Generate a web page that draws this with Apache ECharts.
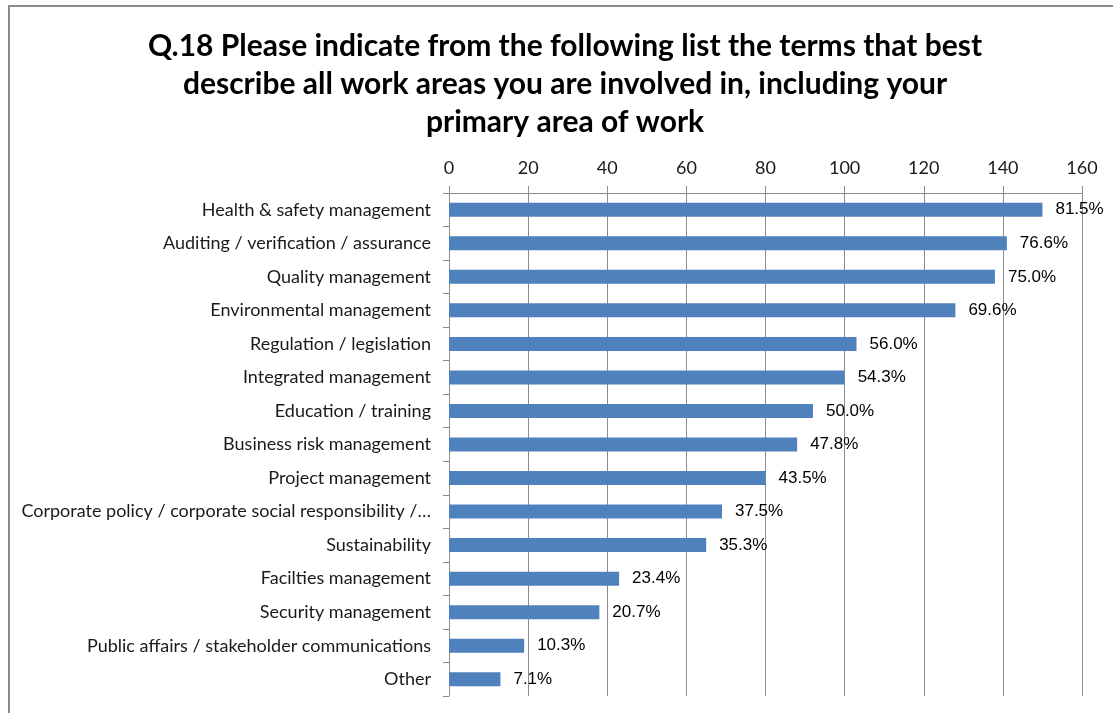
<!DOCTYPE html>
<html>
<head>
<meta charset="utf-8">
<script src="https://cdn.jsdelivr.net/npm/echarts@6/dist/echarts.min.js"></script>
<style>
  html, body { margin: 0; padding: 0; background: #fff; }
  #chart { width: 1113px; height: 713px; }
</style>
</head>
<body>
<div id="chart"></div>
<script>
// Survey question 18: work areas respondents are involved in (multiple answers)
const titleText = 'Q.18 Please indicate from the following list the terms that best\ndescribe all work areas you are involved in, including your\nprimary area of work';

const categories = [
  'Health & safety management',
  'Auditing / verification / assurance',
  'Quality management',
  'Environmental management',
  'Regulation / legislation',
  'Integrated management',
  'Education / training',
  'Business risk management',
  'Project management',
  'Corporate policy / corporate social responsibility /…',
  'Sustainability',
  'Facilties management',
  'Security management',
  'Public affairs / stakeholder communications',
  'Other'
];

// Share of respondents (%) shown next to each bar
const percentages = [81.5, 76.6, 75.0, 69.6, 56.0, 54.3, 50.0, 47.8, 43.5, 37.5, 35.3, 23.4, 20.7, 10.3, 7.1];

// Number of respondents answering the question
const respondents = 184;

const xTicks = [0, 20, 40, 60, 80, 100, 120, 140, 160];

// Response counts derived from the stated shares
const counts = percentages.map(p => Math.round(p * respondents / 100));

const chart = echarts.init(document.getElementById('chart'), null, { renderer: 'canvas' });

const gridColor = '#8c8c8c';
const labelFont = 'Lato, "Open Sans", sans-serif';

chart.setOption({
  animation: false,
  backgroundColor: '#ffffff',
  title: {
    text: titleText,
    left: 560,
    top: 22,
    textAlign: 'center',
    textStyle: {
      fontFamily: labelFont,
      fontWeight: 'bold',
      fontSize: 30,
      lineHeight: 38,
      color: '#000000'
    }
  },
  graphic: [{
    type: 'rect',
    shape: { x: 9, y: 6, width: 1200, height: 800 },
    style: { fill: 'none', stroke: '#8a8a8a', lineWidth: 2 },
    silent: true
  }],
  grid: {
    left: 449,
    top: 193,
    right: 31,
    bottom: 17,
    containLabel: false
  },
  xAxis: {
    type: 'value',
    position: 'top',
    min: xTicks[0],
    max: xTicks[xTicks.length - 1],
    interval: xTicks[1] - xTicks[0],
    axisLine: { show: true, lineStyle: { color: gridColor, width: 1 } },
    axisTick: { show: true, length: 7, lineStyle: { color: gridColor } },
    splitLine: { show: true, lineStyle: { color: gridColor, width: 1 } },
    axisLabel: {
      margin: 16,
      fontFamily: labelFont,
      fontSize: 18,
      color: '#1a1a1a'
    }
  },
  yAxis: {
    type: 'category',
    data: categories,
    inverse: true,
    axisLine: { show: true, lineStyle: { color: gridColor, width: 1 } },
    axisTick: { show: true, length: 6, alignWithLabel: false, lineStyle: { color: gridColor } },
    splitLine: { show: false },
    axisLabel: {
      margin: 18,
      fontFamily: labelFont,
      fontSize: 18,
      color: '#1a1a1a'
    }
  },
  series: [{
    type: 'bar',
    data: counts,
    barWidth: 14,
    itemStyle: { color: '#4f81bd' },
    label: {
      show: true,
      position: 'right',
      distance: 13,
      fontFamily: '"Liberation Sans", Arial, sans-serif',
      fontSize: 17,
      color: '#000000',
      formatter: p => percentages[p.dataIndex].toFixed(1) + '%'
    }
  }]
});
</script>
</body>
</html>
